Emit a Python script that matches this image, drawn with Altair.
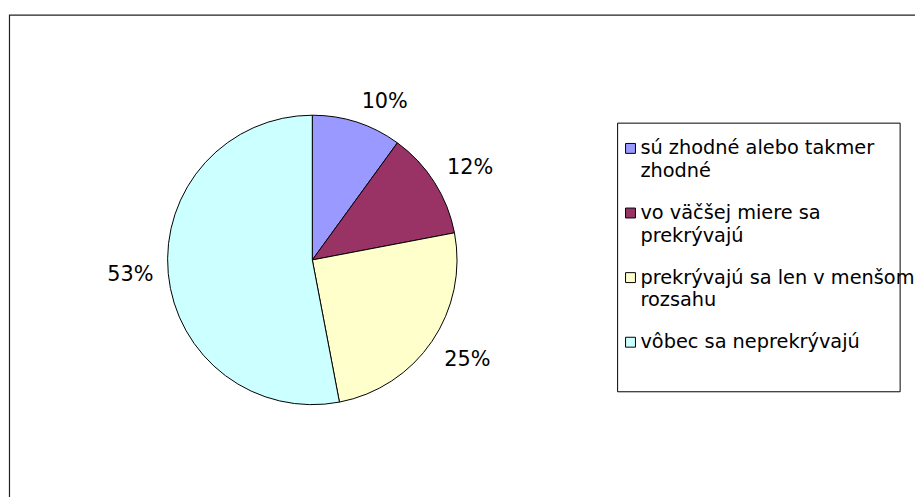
import altair as alt
import pandas as pd

# ---- data ----
categories = [
    "sú zhodné alebo takmer zhodné",
    "vo väčšej miere sa prekrývajú",
    "prekrývajú sa len v menšom rozsahu",
    "vôbec sa neprekrývajú",
]
legend_line1 = ["sú zhodné alebo takmer", "vo väčšej miere sa", "prekrývajú sa len v menšom", "vôbec sa neprekrývajú"]
legend_line2 = ["zhodné", "prekrývajú", "rozsahu", ""]
values = [10, 12, 25, 53]
colors = ["#9999FF", "#993366", "#FFFFCC", "#CCFFFF"]

df = pd.DataFrame({
    "category": categories,
    "line1": legend_line1,
    "line2": legend_line2,
    "value": values,
    "order": list(range(len(categories))),
})
total = sum(values)

# ---- layout (chart coordinates; page = chart + 8px) ----
W, H = 915, 489
CX, CY = 307, 252
R = 146
LABEL_R = 161
FONT = "DejaVu Sans"

base = alt.Chart(df)
deco = alt.Chart(pd.DataFrame({"d": [0]}))

color = alt.Color("category:N", scale=alt.Scale(domain=categories, range=colors), legend=None)

frame = deco.mark_rect(fill="transparent", stroke="#222222", strokeWidth=1.2).encode(
    x=alt.value(1.5), x2=alt.value(1400), y=alt.value(5), y2=alt.value(1400)
)

pie = base.mark_arc(radius=R, stroke="black", strokeWidth=1).encode(
    theta=alt.Theta("value:Q", stack=True),
    color=color,
    order=alt.Order("order:Q"),
    x=alt.value(CX),
    y=alt.value(CY),
)

lab = base.transform_window(
    cum="sum(value)", sort=[alt.SortField("order")], frame=[None, 0]
).transform_calculate(
    pct=f"round(datum.value / {total} * 100) + '%'",
    ang=f"2 * PI * (datum.cum - datum.value / 2) / {total}",
).transform_calculate(
    side="sin(datum.ang) >= 0 ? 'left' : 'right'",
    vb="cos(datum.ang) > 0.5 ? 'alphabetic' : (cos(datum.ang) < -0.5 ? 'top' : 'middle')",
)

label_layers = []
for a in ["left", "right"]:
    for b in ["alphabetic", "middle", "top"]:
        label_layers.append(
            lab.transform_filter(f"datum.side == '{a}' && datum.vb == '{b}'")
            .mark_text(align=a, baseline=b, radius=LABEL_R, font=FONT, fontSize=21, color="black")
            .encode(
                theta=alt.Theta("ang:Q", scale=None, stack=None),
                text="pct:N",
                x=alt.value(CX),
                y=alt.value(CY),
            )
        )

leg_y = alt.Y(
    "category:N",
    scale=alt.Scale(type="point", domain=categories, range=[139.5, 335], padding=0),
    axis=None,
)

box = deco.mark_rect(fill="white", stroke="black", strokeWidth=1).encode(
    x=alt.value(615), x2=alt.value(900), y=alt.value(114), y2=alt.value(385)
)

swatch = base.mark_square(size=100, stroke="black", strokeWidth=1, opacity=1).encode(
    x=alt.value(628), y=leg_y, color=color
)

text1 = base.mark_text(align="left", baseline="middle", font=FONT, fontSize=19.5, color="black").encode(
    x=alt.value(638), y=leg_y, text="line1:N"
)
text2 = base.mark_text(align="left", baseline="middle", font=FONT, fontSize=19.5, color="black", dy=23).encode(
    x=alt.value(638), y=leg_y, text="line2:N"
)

chart = alt.layer(frame, pie, *label_layers, box, swatch, text1, text2).resolve_scale(
    theta="independent"
).properties(
    width=W, height=H, autosize=alt.AutoSizeParams(type="none"), padding=0, background="white"
).configure_view(strokeWidth=0)

chart.save("out.html", embed_options={"renderer": "svg", "actions": False})
